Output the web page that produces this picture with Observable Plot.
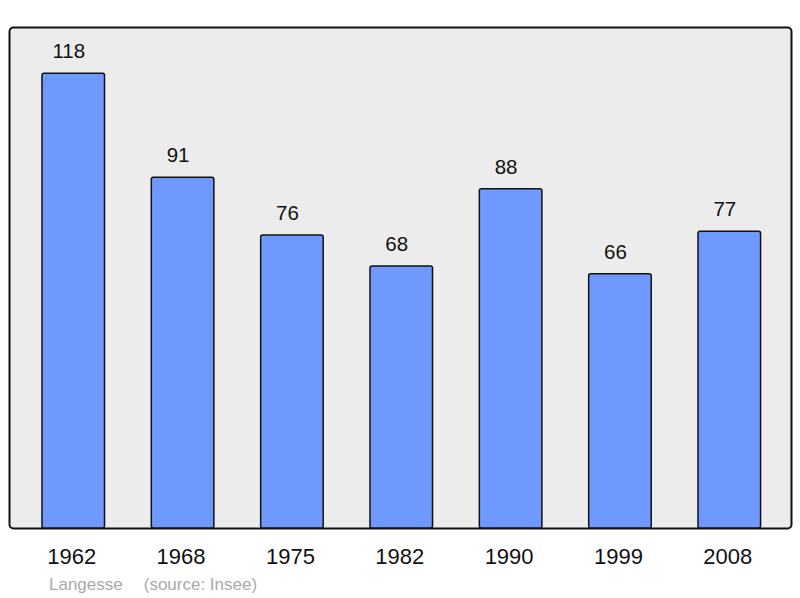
<!DOCTYPE html>
<html>
<head>
<meta charset="utf-8">
<script src="https://cdn.jsdelivr.net/npm/d3@7"></script>
<script src="https://cdn.jsdelivr.net/npm/@observablehq/plot@0.6"></script>
<style>
  body { margin: 0; background: #fff; font-family: "Liberation Sans", Arial, sans-serif; }
  #caption { margin: 0 0 0 49px; height: 28px; line-height: 29px; font-size: 17px; color: #aaaaaa; white-space: pre; }
  #caption .src { margin-left: 21px; }
</style>
</head>
<body>
<div id="chart"></div>
<div id="caption"><span class="name"></span><span class="src"></span></div>
<script>
const years = ["1962", "1968", "1975", "1982", "1990", "1999", "2008"];
const population = [118, 91, 76, 68, 88, 66, 77];
const commune = "Langesse";
const source = "(source: Insee)";

const data = years.map((y, i) => ({year: y, value: population[i]}));

const chart = Plot.plot({
  width: 800,
  height: 570,
  marginLeft: 9,
  marginRight: 9,
  marginTop: 27,
  marginBottom: 42,
  style: {fontFamily: "'Liberation Sans', Arial, sans-serif", background: "#fff"},
  x: {domain: years, paddingInner: 0.428, paddingOuter: 0.29, align: 0.52, round: false, axis: null},
  y: {domain: [0, 130], axis: null},
  marks: [
    Plot.frame({fill: "#ececec", stroke: "#111", strokeWidth: 2, rx: 4}),
    Plot.barY(data, {x: "year", y: "value", fill: "#7099ff", stroke: "#111", strokeWidth: 1.5, rx: 2}),
    Plot.text(data, {x: "year", y: "value", text: d => String(d.value), dy: -22, dx: -5, fontSize: 20.5, fill: "#111", lineAnchor: "middle"}),
    Plot.text(data, {x: "year", text: "year", frameAnchor: "bottom", dy: 28, dx: -2, fontSize: 22, fill: "#111", lineAnchor: "middle"})
  ]
});
document.getElementById("chart").appendChild(chart);
document.querySelector("#caption .name").textContent = commune;
document.querySelector("#caption .src").textContent = source;
</script>
</body>
</html>
